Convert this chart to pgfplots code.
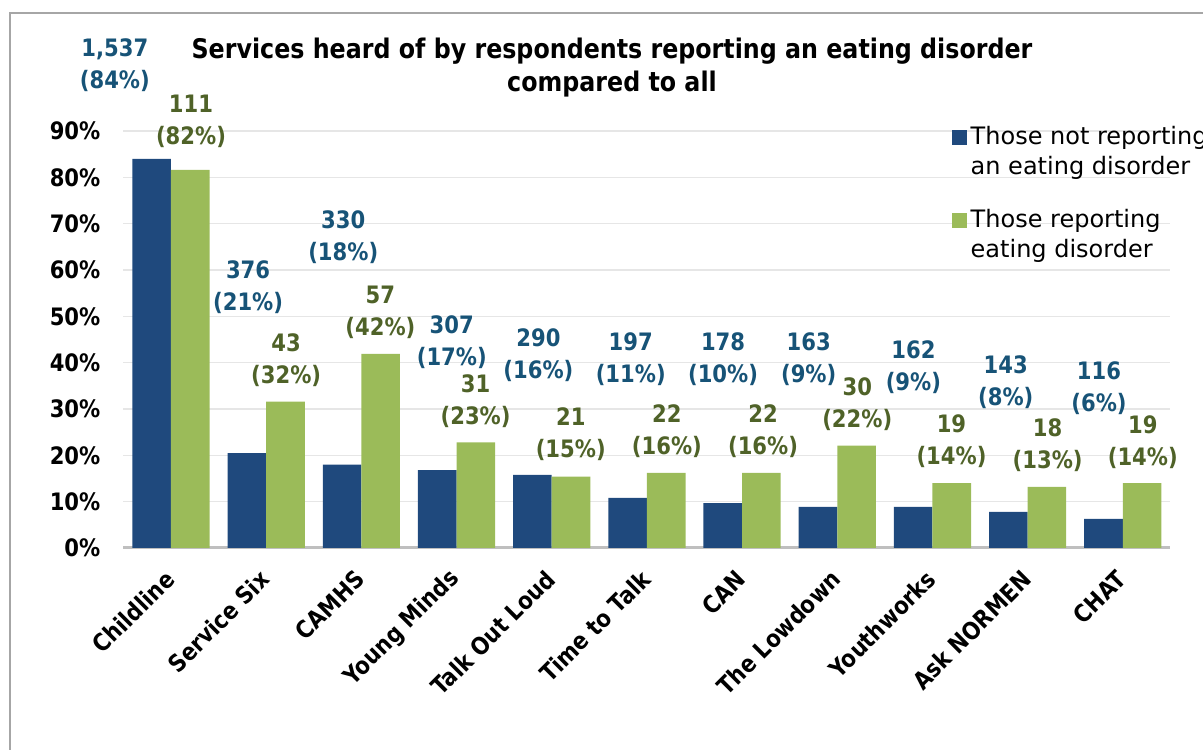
\documentclass[border=0pt]{standalone}
\usepackage{pgfplots}
\pgfplotsset{compat=1.18}
\usepackage{fontspec}
\setmainfont{DejaVu Sans}[FakeStretch=0.88]
\newfontfamily\legfont{DejaVu Sans}
\definecolor{barblue}{HTML}{1F497D}
\definecolor{bargreen}{HTML}{9BBB59}
\definecolor{lblblue}{HTML}{175377}
\definecolor{lblgreen}{HTML}{4F6228}
\definecolor{gridc}{HTML}{E6E6E6}
\definecolor{basec}{HTML}{BFBFBF}
\definecolor{framec}{HTML}{A6A6A6}
\begin{document}
\begin{tikzpicture}[x=1pt,y=1pt]
\path[use as bounding box, clip] (0,0) rectangle (601.5,374.5);
\draw[framec, line width=0.9pt] (5,-20) -- (5,368) -- (700,368);
\node[font=\bfseries\fontsize{13.5}{16.5}\selectfont, align=center] at (306,340.5)
  {Services heard of by respondents reporting an eating disorder\\compared to all};
\begin{axis}[
  at={(61.7pt,100.5pt)}, anchor=south west,
  scale only axis, width=523.5pt, height=208.5pt,
  ybar=0pt, bar width=19.3pt,
  xmin=-0.5, xmax=10.5, ymin=0, ymax=90,
  clip=false,
  axis line style={draw=none},
  axis x line*=bottom,
  x axis line style={draw=basec, line width=1.5pt},
  axis y line*=left,
  y axis line style={draw=none},
  ymajorgrids, grid style={gridc, line width=0.6pt},
  major tick length=0pt,
  xtick={0,...,10},
  xticklabels={Childline, Service Six, CAMHS, Young Minds, Talk Out Loud, Time to Talk, CAN, The Lowdown, Youthworks, Ask NORMEN, CHAT},
  xticklabel style={font=\bfseries\fontsize{12}{14}\selectfont, xshift=2pt, yshift=-11pt, rotate=45, anchor=east},
  ytick={0,10,...,90},
  yticklabels={0\%,10\%,20\%,30\%,40\%,50\%,60\%,70\%,80\%,90\%},
  yticklabel style={font=\bfseries\fontsize{12}{14}\selectfont, xshift=-8pt},
  legend cell align=left,
  legend style={at={(0.785,1.031)}, anchor=north west, draw=none, fill=none,
    font=\legfont\fontsize{12}{15}\selectfont, cells={align=left}, row sep=12pt},
  legend image code/.code={\fill[#1] (0pt,3.75pt) rectangle (7.5pt,11.25pt);},
]
\addplot[fill=barblue, draw=none] coordinates {
 (0,84.0) (1,20.5) (2,18.0) (3,16.8) (4,15.8) (5,10.8) (6,9.7) (7,8.9) (8,8.9) (9,7.8) (10,6.3)};
\addplot[fill=bargreen, draw=none] coordinates {
 (0,81.6) (1,31.6) (2,41.9) (3,22.8) (4,15.4) (5,16.2) (6,16.2) (7,22.1) (8,14.0) (9,13.2) (10,14.0)};
\legend{Those not reporting\\an eating disorder, Those reporting\\eating disorder}
\tikzset{lb/.style={font=\bfseries\fontsize{12}{16}\selectfont, align=center, lblblue},
         lg/.style={font=\bfseries\fontsize{12}{16}\selectfont, align=center, lblgreen}}
\node[lb] at (axis cs:-0.59,104.3) {1,537\\(84\%)};
\node[lg] at (axis cs:0.21,92.0) {111\\(82\%)};
\node[lb] at (axis cs:0.81,56.4) {376\\(21\%)};
\node[lg] at (axis cs:1.21,40.6) {43\\(32\%)};
\node[lb] at (axis cs:1.81,67.1) {330\\(18\%)};
\node[lg] at (axis cs:2.20,50.8) {57\\(42\%)};
\node[lb] at (axis cs:2.95,44.5) {307\\(17\%)};
\node[lg] at (axis cs:3.20,31.7) {31\\(23\%)};
\node[lb] at (axis cs:3.86,41.7) {290\\(16\%)};
\node[lg] at (axis cs:4.20,24.5) {21\\(15\%)};
\node[lb] at (axis cs:4.83,40.8) {197\\(11\%)};
\node[lg] at (axis cs:5.21,25.3) {22\\(16\%)};
\node[lb] at (axis cs:5.80,40.8) {178\\(10\%)};
\node[lg] at (axis cs:6.22,25.3) {22\\(16\%)};
\node[lb] at (axis cs:6.70,40.8) {163\\(9\%)};
\node[lg] at (axis cs:7.21,31.0) {30\\(22\%)};
\node[lb] at (axis cs:7.80,39.0) {162\\(9\%)};
\node[lg] at (axis cs:8.20,23.0) {19\\(14\%)};
\node[lb] at (axis cs:8.77,35.7) {143\\(8\%)};
\node[lg] at (axis cs:9.21,22.2) {18\\(13\%)};
\node[lb] at (axis cs:9.75,34.6) {116\\(6\%)};
\node[lg] at (axis cs:10.21,22.9) {19\\(14\%)};
\end{axis}
\end{tikzpicture}
\end{document}
